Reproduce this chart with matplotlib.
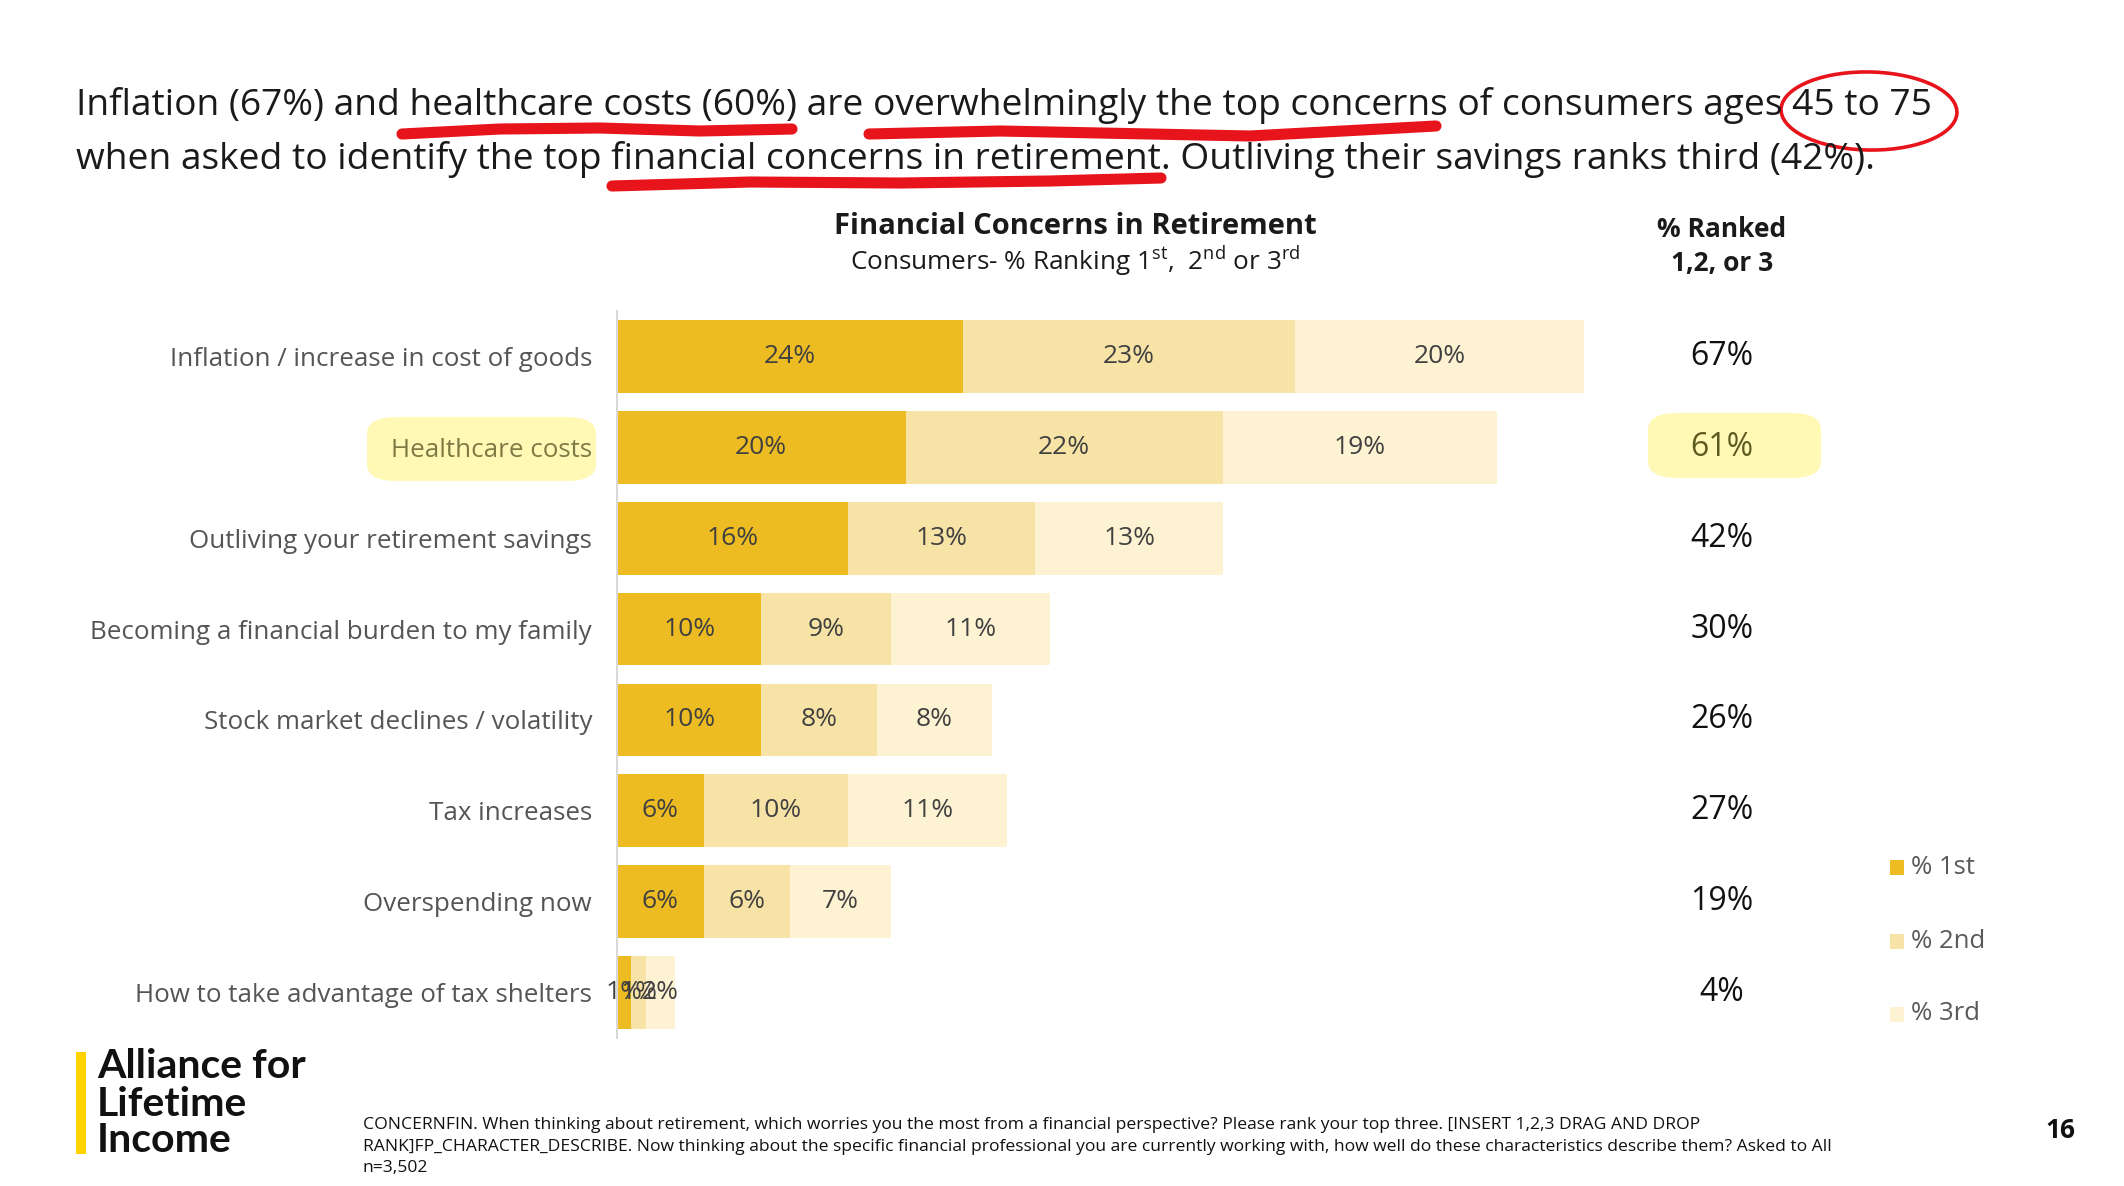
import matplotlib
matplotlib.use("Agg")
from matplotlib import pyplot as plt
from matplotlib.patches import FancyBboxPatch, Ellipse, Rectangle
from matplotlib.transforms import blended_transform_factory

concerns = ["Inflation / increase in cost of goods", "Healthcare costs",
            "Outliving your retirement savings", "Becoming a financial burden to my family",
            "Stock market declines / volatility", "Tax increases", "Overspending now",
            "How to take advantage of tax shelters"]
first = [24, 20, 16, 10, 10, 6, 6, 1]
second = [23, 22, 13, 9, 8, 10, 6, 1]
third = [20, 19, 13, 11, 8, 11, 7, 2]
ranked = [67, 61, 42, 30, 26, 27, 19, 4]
series_names = ["% 1st", "% 2nd", "% 3rd"]
colors = ["#EDBC22", "#F8E3A6", "#FDF2D2"]

W, H = 2124, 1186
plt.rcParams['font.family'] = ['Open Sans', 'DejaVu Sans']
plt.rcParams['mathtext.fontset'] = 'custom'
plt.rcParams['mathtext.rm'] = 'Open Sans'


def fx(x):
    return x / W


def fy(y):
    return 1 - y / H


fig = plt.figure(figsize=(W / 100, H / 100), dpi=100)
fig.patch.set_facecolor("white")

# headline with hand drawn marks
fig.text(fx(76), fy(105), "Inflation (67%) and healthcare costs (60%) are overwhelmingly the top concerns of consumers ages 45 to 75",
         fontsize=26.7, color="#1a1a1a", va="center", ha="left")
fig.text(fx(76), fy(159), "when asked to identify the top financial concerns in retirement. Outliving their savings ranks third (42%).",
         fontsize=26.7, color="#1a1a1a", va="center", ha="left")
red = "#E8141C"
strokes = [([402, 500, 600, 700, 792], [134, 129, 128, 131, 129]),
           ([869, 1000, 1100, 1250, 1436], [134, 131, 133, 136, 126]),
           ([612, 750, 900, 1050, 1161], [186, 182, 183, 181, 178])]
for xs, ys in strokes:
    fig.add_artist(plt.Line2D([fx(v) for v in xs], [fy(v) for v in ys], color=red,
                              linewidth=8, solid_capstyle="round", solid_joinstyle="round"))
fig.add_artist(Ellipse((fx(1869), fy(111)), fx(176), 78 / H, angle=-4, fill=False, edgecolor=red,
                       linewidth=2.6, transform=fig.transFigure))

# chart titles
fig.text(fx(1075), fy(226), "Financial Concerns in Retirement", fontsize=21, fontweight="bold",
         ha="center", va="center", color="#1a1a1a")
fig.text(fx(1075), fy(261), r"Consumers- % Ranking 1$^{\mathregular{st}}$,  2$^{\mathregular{nd}}$ or 3$^{\mathregular{rd}}$",
         fontsize=18.8, ha="center", va="center", color="#1a1a1a")
fig.text(fx(1722), fy(229), "% Ranked", fontsize=19, fontweight="bold", ha="center", va="center", color="#1a1a1a")
fig.text(fx(1722), fy(263), "1,2, or 3", fontsize=19, fontweight="bold", ha="center", va="center", color="#1a1a1a")

# highlighter marks
hl = "#FFF9B5"
fig.add_artist(FancyBboxPatch((fx(367), fy(481)), fx(229), 64 / H, boxstyle="round,pad=0,rounding_size=0.014",
                              facecolor=hl, edgecolor="none", transform=fig.transFigure, zorder=0))
fig.add_artist(FancyBboxPatch((fx(1648), fy(478)), fx(173), 65 / H, boxstyle="round,pad=0,rounding_size=0.014",
                              facecolor=hl, edgecolor="none", transform=fig.transFigure, zorder=0))

ax = fig.add_axes([fx(617), fy(1038), fx(1010), (1038 - 311) / H])
ax.patch.set_alpha(0)
y = list(range(len(concerns)))
left = [0] * len(concerns)
for vals, name, c in zip([first, second, third], series_names, colors):
    bars = ax.barh(y, vals, left=left, height=0.8, color=c, label=name)
    ax.bar_label(bars, labels=[f"{v}%" for v in vals], label_type="center", fontsize=19, color="#404040")
    left = [a + b for a, b in zip(left, vals)]

ax.set_xlim(0, 70)
ax.set_ylim(len(concerns) - 0.5, -0.5)
ax.set_xticks([])
ax.set_yticks(y)
ax.set_yticklabels(concerns, fontsize=18.7, color="#555555")
ax.get_yticklabels()[1].set_color("#7d7a45")
ax.tick_params(axis="y", length=0, pad=18)
for s in ["top", "right", "bottom"]:
    ax.spines[s].set_visible(False)
ax.spines["left"].set_color("#d9d9d9")
ax.spines["left"].set_linewidth(1.5)

# ranked column
rank_tr = blended_transform_factory(fig.transFigure, ax.transData)
for i, v in enumerate(ranked):
    ax.text(fx(1722), i, f"{v}%", transform=rank_tr, ha="center", va="center", fontsize=23,
            color="#5c5a20" if i == 1 else "#111111")

# legend
for k, (name, c) in enumerate(zip(series_names, colors)):
    yy = [867, 941, 1014][k]
    fig.add_artist(Rectangle((fx(1890), fy(yy + 8)), fx(14), 15 / H, facecolor=c, edgecolor="none",
                             transform=fig.transFigure))
    fig.text(fx(1911), fy(yy), name, fontsize=18.5, color="#595959", va="center", ha="left")

# logo and footer
fig.add_artist(Rectangle((fx(76), fy(1154)), fx(10), 102 / H, facecolor="#FFD200", edgecolor="none",
                         transform=fig.transFigure))
for line, yy in zip(["Alliance for", "Lifetime", "Income"], [1067, 1104, 1141]):
    fig.text(fx(97), fy(yy), line, fontsize=29.5, fontweight="bold", color="#111111", va="center", ha="left",
             family=["Lato", "DejaVu Sans"])
footnote = ["CONCERNFIN. When thinking about retirement, which worries you the most from a financial perspective? Please rank your top three. [INSERT 1,2,3 DRAG AND DROP",
            "RANK]FP_CHARACTER_DESCRIBE. Now thinking about the specific financial professional you are currently working with, how well do these characteristics describe them? Asked to All",
            "n=3,502"]
for line, yy in zip(footnote, [1125, 1147, 1168]):
    fig.text(fx(363), fy(yy), line, fontsize=12.6, color="#111111", va="center", ha="left")
fig.text(fx(2060), fy(1131), "16", fontsize=19, fontweight="bold", color="#111111", va="center", ha="center")

fig.savefig("out.png", dpi=100)
